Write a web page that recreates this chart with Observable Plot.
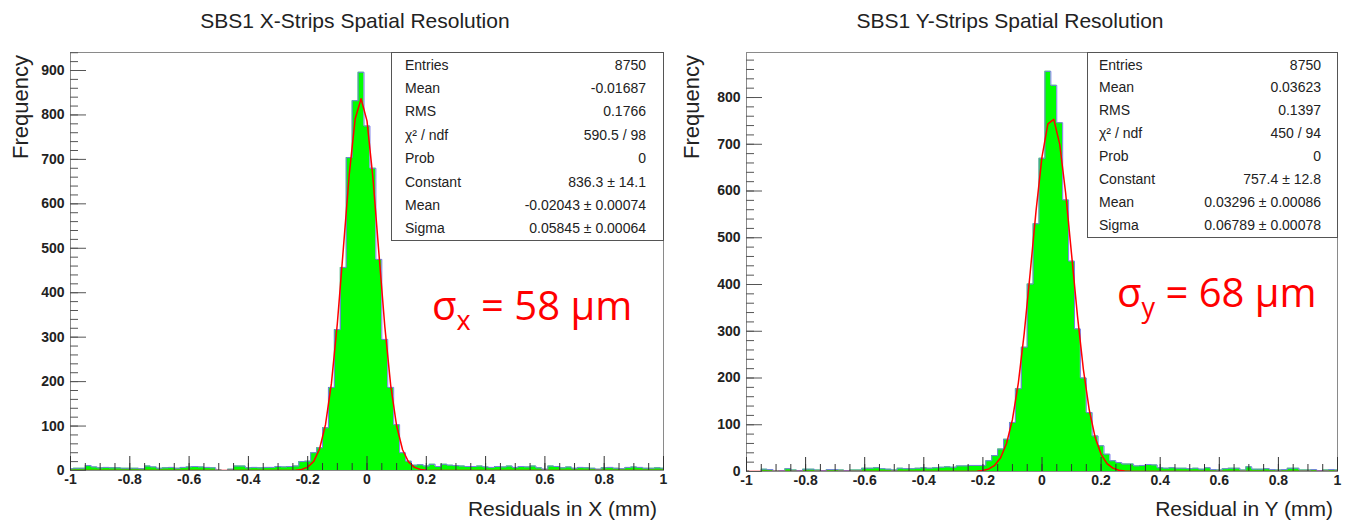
<!DOCTYPE html>
<html><head><meta charset="utf-8">
<script src="https://cdn.jsdelivr.net/npm/d3@7"></script>
<script src="https://cdn.jsdelivr.net/npm/@observablehq/plot@0.6"></script>
<style>
body{margin:0;background:#fff;}
#root{position:relative;width:1346px;height:525px;overflow:hidden;background:#fff;}
.panel{position:absolute;top:0;}
#overlay{position:absolute;left:0;top:0;pointer-events:none;}
</style></head>
<body><div id="root"></div>
<script>
// ---- data ----
// histogram bin centres run from -1.00 to 1.00 in steps of 0.02 (101 bins)
const xCounts = [4,5,5,11,8,6,7,6,6,5, 5,5,4,10,8,5,6,7,5,7, 8,9,8,7,6,1,0,3,10,10, 6,7,6,7,7,9,8,9,10,20, 21,40,51,96,187,317,457,704,832,896, 775,680,475,295,187,103,40,21,12,13, 10,14,9,14,12,11,10,9,9,10, 8,7,9,8,10,7,9,8,10,6, 3,10,9,6,8,5,7,6,5,3, 6,7,5,4,7,8,7,5,5,6, 5];
const yCounts = [1,0,0,5,4,1,2,6,3,2, 5,5,3,2,4,4,3,2,3,3, 7,7,8,6,5,3,7,6,6,7, 8,7,8,9,10,9,12,12,13,13, 13,23,34,48,69,105,177,266,401,530, 670,856,826,746,581,450,305,200,126,76, 55,37,23,19,16,16,12,13,15,14, 8,7,8,7,7,6,7,5,8,4, 3,6,7,7,3,10,5,5,6,4, 3,4,7,7,3,3,4,2,3,4, 3];
// red fit curves, sampled at x = -1, -0.30 ... 0.30 (step 0.02), 1
const fitGrid = [-1,-0.30,-0.28,-0.26,-0.24,-0.22,-0.20,-0.18,-0.16,-0.14,-0.12,-0.10,-0.08,-0.06,-0.04,-0.02,0,0.02,0.04,0.06,0.08,0.10,0.12,0.14,0.16,0.18,0.20,0.22,0.24,0.26,0.28,0.30,1];
const fitXVals = [0,0.01,0.04,0.19,0.72,2.5,7.5,20.1,48.3,103.2,195.9,331.1,497.5,665.0,790.7,836.3,786.7,658.3,490.1,324.5,191.1,100.1,46.7,19.3,7.1,2.3,0.68,0.18,0.04,0.01,0,0,0];
const fitYVals = [0,0,0.02,0.07,0.23,0.73,2.1,5.5,13.3,29.5,59.8,111.3,189.7,296.6,425.1,558.7,673.2,743.7,753.3,699.7,595.8,465.1,333.0,218.5,131.5,72.6,36.7,17.0,7.2,2.8,1.0,0.33,0];
// axis ticks
const xMajor = [-1,-0.8,-0.6,-0.4,-0.2,0,0.2,0.4,0.6,0.8,1];
const xMinor = d3.range(-1, 1.0001, 0.05);
const yMajorX = [0,100,200,300,400,500,600,700,800,900];
const yMajorY = [0,100,200,300,400,500,600,700,800];
// text
const titles = ["SBS1 X-Strips Spatial Resolution", "SBS1 Y-Strips Spatial Resolution"];
const xTitles = ["Residuals in X (mm)", "Residual in Y (mm)"];
const statLabels = ["Entries","Mean","RMS","χ² / ndf","Prob","Constant","Mean","Sigma"];
const statsX = ["8750","-0.01687","0.1766","590.5 / 98","0","836.3 ± 14.1","-0.02043 ± 0.00074","0.05845 ± 0.00064"];
const statsY = ["8750","0.03623","0.1397","450 / 94","0","757.4 ± 12.8","0.03296 ± 0.00086","0.06789 ± 0.00078"];
const sigmaSub = ["x","y"], sigmaVal = ["58","68"];

const W = 673, H = 525;
function makePanel(counts, fitVals, yMax, yMajor, m) {
  const bins = counts.map((c, i) => ({lo: -1.01 + 0.02 * i, hi: -0.99 + 0.02 * i, c}));
  const step = bins.map(b => ({x: b.lo, y: b.c})).concat([{x: bins[bins.length - 1].hi, y: bins[bins.length - 1].c}]);
  const fit = fitGrid.map((x, i) => ({x, y: fitVals[i]}));
  const yMinor = d3.range(0, yMax, 20);
  const fw = W - m.l - m.r, fh = H - m.t - m.b;
  const fmt = d => Math.abs(d) < 1e-9 ? "0" : String(Math.round(d * 10) / 10);
  return Plot.plot({
    width: W, height: H,
    marginLeft: m.l, marginRight: m.r, marginTop: m.t, marginBottom: m.b,
    x: {domain: [-1, 1]},
    y: {domain: [0, yMax]},
    style: {fontFamily: "'Liberation Sans', Arial, sans-serif", background: "transparent", color: "#222"},
    marks: [
      Plot.areaY(step, {x: "x", y: "y", curve: "step-after", fill: "#00ff00", clip: true}),
      Plot.line(step, {x: "x", y: "y", curve: "step-after", stroke: "#7a7ae8", strokeWidth: 1, clip: true}),
      Plot.line(fit, {x: "x", y: "y", stroke: "#ff0000", strokeWidth: 1.5, clip: true}),
      Plot.frame({stroke: "#8a8a8a"}),
      Plot.tickY(yMajor, {y: d => d, insetRight: fw - 16, stroke: "#555"}),
      Plot.tickY(yMinor, {y: d => d, insetRight: fw - 8, stroke: "#555"}),
      Plot.tickX(xMajor, {x: d => d, insetTop: fh - 14, stroke: "#333"}),
      Plot.tickX(xMinor, {x: d => d, insetTop: fh - 7, stroke: "#333"}),
      Plot.axisY(yMajor, {tickSize: 0, tickPadding: 6, fontSize: 14, fontWeight: "bold", label: null, tickFormat: d => String(d)}),
      Plot.axisX(xMajor, {tickSize: 0, tickPadding: 4, fontSize: 14, fontWeight: "bold", label: null, tickFormat: fmt})
    ]
  });
}

const root = document.getElementById("root");
const p1 = makePanel(xCounts, fitXVals, 940.5, yMajorX, {l: 70, r: 10, t: 52, b: 55});
const p2 = makePanel(yCounts, fitYVals, 896.3, yMajorY, {l: 73, r: 9, t: 52, b: 54});
const d1 = document.createElement("div"); d1.className = "panel"; d1.style.left = "0px"; d1.appendChild(p1);
const d2 = document.createElement("div"); d2.className = "panel"; d2.style.left = "673px"; d2.appendChild(p2);
root.appendChild(d1); root.appendChild(d2);

// overlay texts
const svg = d3.select(root).append("svg").attr("id", "overlay").attr("width", 1346).attr("height", 525)
  .style("font-family", "'Liberation Sans', Arial, sans-serif");
const cfg = [
  {title: 355, ylabX: 28, xlabR: 657, box: [391, 52, 272, 188], labX: 405, valX: 646, row0: 69.5, rowStep: 23.4, stats: statsX, sx: 432, sy: 320},
  {title: 1010, ylabX: 699, xlabR: 1333, box: [1087, 52, 250, 185], labX: 1099, valX: 1321, row0: 69.5, rowStep: 22.96, stats: statsY, sx: 1117, sy: 307}
];
cfg.forEach((c, k) => {
  svg.append("text").attr("x", c.title).attr("y", 28).attr("text-anchor", "middle")
    .attr("font-size", 21).attr("fill", "#222").text(titles[k]);
  svg.append("text").attr("transform", `translate(${c.ylabX},55) rotate(-90)`).attr("text-anchor", "end")
    .attr("font-size", 22).attr("fill", "#222").text("Frequency");
  svg.append("text").attr("x", c.xlabR).attr("y", 516).attr("text-anchor", "end")
    .attr("font-size", 21).attr("fill", "#222").text(xTitles[k]);
  svg.append("rect").attr("x", c.box[0] + 0.5).attr("y", c.box[1] + 0.5).attr("width", c.box[2]).attr("height", c.box[3])
    .attr("fill", "#fff").attr("stroke", "#555");
  statLabels.forEach((l, i) => {
    svg.append("text").attr("x", c.labX).attr("y", c.row0 + i * c.rowStep).attr("font-size", 14).attr("fill", "#222").text(l);
    svg.append("text").attr("x", c.valX).attr("y", c.row0 + i * c.rowStep).attr("font-size", 14).attr("fill", "#222")
      .attr("text-anchor", "end").text(c.stats[i]);
  });
  const t = svg.append("text").attr("x", c.sx).attr("y", c.sy).attr("font-size", 40).attr("fill", "#ff0000")
    .style("font-family", "'Open Sans', sans-serif");
  t.append("tspan").text("σ");
  t.append("tspan").attr("font-size", 27).attr("dy", 10).text(sigmaSub[k]);
  t.append("tspan").attr("dy", -10).text(" = " + sigmaVal[k] + " μm");
});
</script></body></html>
